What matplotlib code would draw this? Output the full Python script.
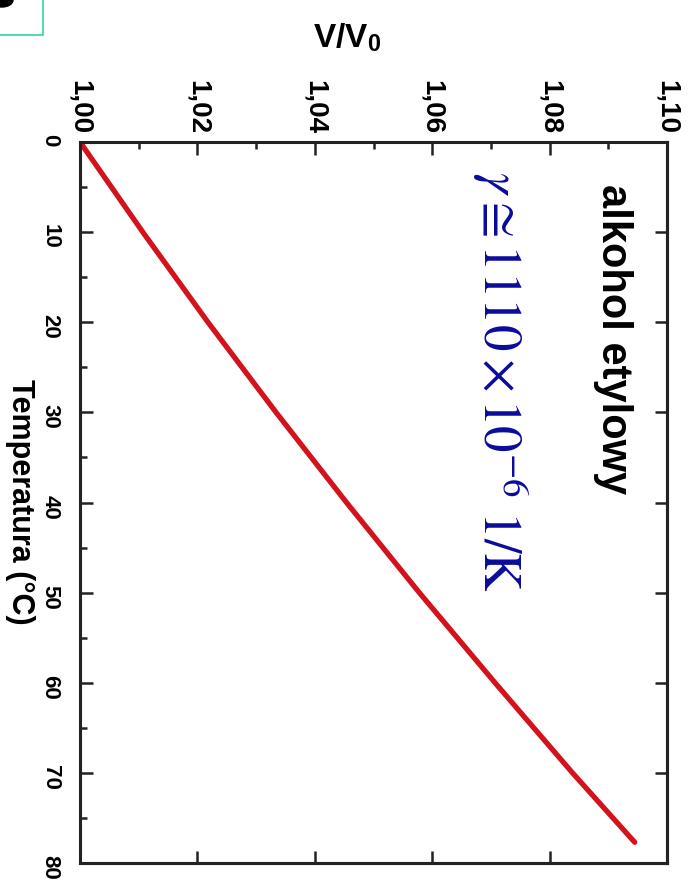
import matplotlib.pyplot as plt
import matplotlib.patches as mpatches
from matplotlib.ticker import MultipleLocator, NullLocator, FuncFormatter

temperature = [0, 10, 20, 30, 40, 50, 60, 70, 77.7]
volume_ratio = [1.0000, 1.0107, 1.0218, 1.0334, 1.0454, 1.0578, 1.0707, 1.0839, 1.0945]

v_ticks = [1.00, 1.02, 1.04, 1.06, 1.08, 1.10]
t_ticks = [0, 10, 20, 30, 40, 50, 60, 70, 80]

plt.rcParams['font.family'] = ['Liberation Sans', 'DejaVu Sans']
plt.rcParams['mathtext.fontset'] = 'stix'

W, H = 690, 893
fig = plt.figure(figsize=(W / 100, H / 100), dpi=100)
ax = fig.add_axes([80 / W, 1 - 863 / H, (667 - 80) / W, (863 - 142) / H])

ax.plot(volume_ratio, temperature, color='#d3121c', lw=3.8, solid_capstyle='round')

ax.set_xlim(1.0, 1.10)
ax.set_ylim(80, 0)

comma = FuncFormatter(lambda v, pos: ('%.2f' % v).replace('.', ','))
ax.xaxis.tick_top()
ax.set_xticks(v_ticks)
ax.xaxis.set_major_formatter(comma)
ax.xaxis.set_minor_locator(MultipleLocator(0.01))
ax.set_yticks(t_ticks)
ax.yaxis.set_minor_locator(MultipleLocator(5))

ax.tick_params(which='both', direction='in', width=1.8, top=True, left=True,
               bottom=False, right=False, labelrotation=-90, color='#222222')
ax.tick_params(which='major', length=9)
ax.tick_params(which='minor', length=5)
ax.tick_params(axis='x', labelsize=20, pad=6)
ax.tick_params(axis='y', labelsize=16, pad=14)
for lab in ax.get_xticklabels() + ax.get_yticklabels():
    lab.set_fontweight('bold')

# bottom and right edges: major ticks only, no labels
secx = ax.secondary_xaxis('bottom')
secx.set_xticks(v_ticks)
secx.xaxis.set_minor_locator(NullLocator())
secx.tick_params(direction='in', length=9, width=1.8, labelbottom=False, color='#222222')
secy = ax.secondary_yaxis('right')
secy.set_yticks(t_ticks)
secy.yaxis.set_minor_locator(NullLocator())
secy.tick_params(direction='in', length=9, width=1.8, labelright=False, color='#222222')

for a in (ax, secx, secy):
    for s in a.spines.values():
        s.set_linewidth(2.2)
        s.set_color('#222222')

fig.text(347 / W, 1 - 38 / H, r'V/V$_\mathregular{0}$', fontsize=24, fontweight='bold',
         ha='center', va='center')
fig.text(20 / W, 1 - 502 / H, 'Temperatura (°C)', fontsize=22, fontweight='bold',
         rotation=-90, ha='center', va='center')
fig.text(613 / W, 1 - 339 / H, 'alkohol etylowy', fontsize=30, fontweight='bold',
         rotation=-90, ha='center', va='center')
fig.text(500 / W, 1 - 382 / H, r'$\gamma \cong 1110\times10^{-6}\ \mathrm{1/K}$',
         fontsize=38, color='#0b0b9c', rotation=-90, ha='center', va='center')

# cropped frame remnants in the top-left corner
fig.patches.append(mpatches.Rectangle((-0.02, 1 - 35 / H), 43 / W + 0.02, 0.05,
                                      transform=fig.transFigure, fill=False,
                                      edgecolor='#2fd3a6', lw=1.2))
fig.patches.append(mpatches.Ellipse((2 / W, 1.0), 22 / W, 14 / H,
                                    transform=fig.transFigure, color='black'))

fig.savefig('out.png', dpi=100)
